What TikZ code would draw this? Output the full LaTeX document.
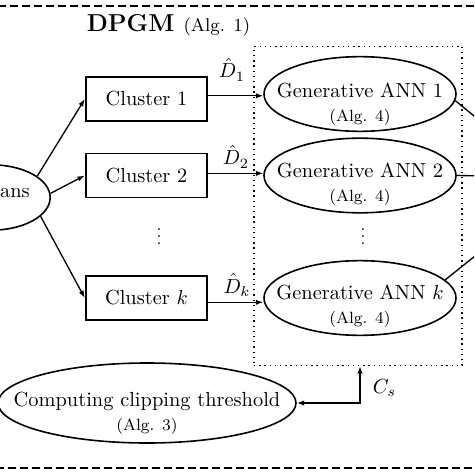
\RequirePackage{fix-cm}
\documentclass[tikz,border=0pt]{standalone}
\usetikzlibrary{shapes.geometric,arrows.meta}

\tikzset{every picture/.style={line width=0.75pt}}
\tikzset{
  txt/.style={scale=1.53, inner sep=0pt},
  clusterbox/.style={draw, scale=1.53, line width=1.2pt, minimum width=59.3pt, minimum height=21.57pt, inner sep=0pt},
  algell/.style={draw, ellipse, line width=1.2pt, minimum width=144pt, minimum height=56pt, inner sep=0pt},
  algtext/.style={scale=1.53, align=center, inner sep=0pt},
  flow/.style={line width=1pt, -{Latex[length=5.5pt,width=4pt]}},
  dotgroup/.style={draw, line width=1pt, dash pattern=on 1pt off 2.9pt, minimum width=156pt, minimum height=239.25pt, inner sep=0pt},
}

\begin{document}
\begin{tikzpicture}[x=0.75pt,y=0.75pt,yscale=-1,xscale=1]
\useasboundingbox (0,0) rectangle (474,474);
\clip (0,0) rectangle (474,474);

%Shape: Rectangle (outer frame) 
\draw [line width=1.5pt, dash pattern=on 6pt off 3pt] (-22,6) rectangle (496,468) ;
%Shape: Rectangle (group of generators) 
\node [dotgroup] (grp) at (358,206) {};

% Text Node
\node [txt, anchor=base west] (title) at (86,31.5) {\large\bfseries DPGM {\small\mdseries (Alg. 1)}};

%Shape: Ellipse (k-means) 
\node [algell, minimum width=88pt, minimum height=49pt] (km) at (-8.5,197.5) {};
\node [txt, anchor=base east] (kmtxt) at (30.5,197) {K-means};

%Shape: Rectangle 
\node [clusterbox] (c1) at (146.5,99) {Cluster 1};
\node [clusterbox] (c2) at (146.5,175.5) {Cluster 2};
\node [clusterbox] (ck) at (146.5,298) {Cluster $k$};
\node [scale=1.3, inner sep=0pt] (cdots) at (159,231) {$\vdots$};

%Shape: Ellipse 
\node [algell] (g1) at (360,94) {};
\node [algtext] (g1txt) at (360,104.3) {Generative ANN 1\\{\footnotesize (Alg. 4)}};
\node [algell] (g2) at (360,175.5) {};
\node [algtext] (g2txt) at (360,184.3) {Generative ANN 2\\{\footnotesize (Alg. 4)}};
\node [algell] (gk) at (360,298) {};
\node [algtext] (gktxt) at (360,306.3) {Generative ANN $k$\\{\footnotesize (Alg. 4)}};
\node [scale=1.3, inner sep=0pt] (gdots) at (363,231) {$\vdots$};

%Shape: Ellipse (clipping) 
\node [algell, minimum width=223.5pt, minimum height=60pt] (clipthr) at (147,403) {};
\node [algtext] (cliptxt) at (147,413.3) {Computing clipping threshold\\{\footnotesize (Alg. 3)}};

%Straight Lines 
\draw [flow] (km.25) -- (c1.west) ;
\draw [flow] (km.4) -- (c2.west) ;
\draw [flow] (km.-21) -- (ck.west) ;
\draw [flow] (c1.3) -- (c1.3 -| g1.west) ;
\draw [flow] (c2.2) -- (c2.2 -| g2.west) ;
\draw [flow] (ck.-4) -- (ck.-4 -| gk.west) ;
\draw [line width=1pt, {Latex[length=5.5pt,width=4pt]}-{Latex[length=5.5pt,width=4pt]}] (grp.south -| g1) |- (clipthr.east) ;

%Straight Lines (to the right, out of view) 
\coordinate (out1) at (490,129) ;
\coordinate (out2) at (490,176) ;
\coordinate (outk) at (490,244) ;
\draw [line width=1pt] (g1.-4) -- (out1) ;
\draw [line width=1pt] (g2.east) -- (out2) ;
\draw [line width=1pt] (gk.12) -- (outk) ;

% Text Node
\node [txt, anchor=base] (d1) at (232,78) {$\hat{D}_1$};
% Text Node
\node [txt, anchor=base] (d2) at (236,165) {$\hat{D}_2$};
% Text Node
\node [txt, anchor=base] (dk) at (237,293) {$\hat{D}_k$};
% Text Node
\node [txt, anchor=base west] (cs) at (372,393) {$C_s$};

\end{tikzpicture}
\end{document}
